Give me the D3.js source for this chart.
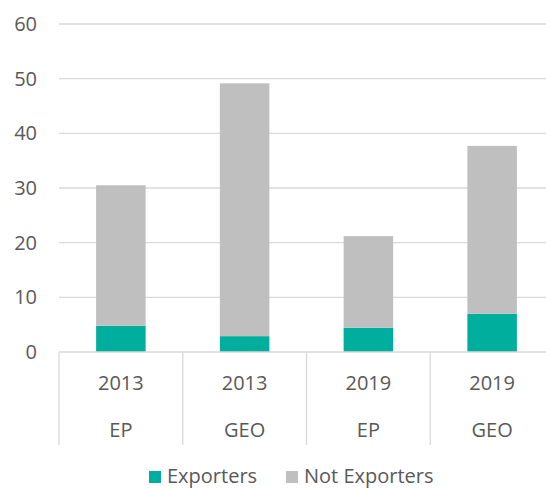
<!DOCTYPE html>
<html>
<head>
<meta charset="utf-8">
<script src="https://cdn.jsdelivr.net/npm/d3@7"></script>
<style>
  body { margin: 0; background: #fff; }
  text { font-family: "Open Sans", sans-serif; fill: #595959; }
</style>
</head>
<body>
<div id="chart"></div>
<script>
const years = ['2013', '2013', '2019', '2019'];
const groups = ['EP', 'GEO', 'EP', 'GEO'];
const exporters = [4.8, 2.9, 4.45, 7.0];
const notExporters = [25.7, 46.25, 16.75, 30.7];
const seriesNames = ['Exporters', 'Not Exporters'];
const seriesColors = ['#00ae9d', '#bfbfbf'];
const yTicks = [0, 10, 20, 30, 40, 50, 60];

const W = 546, H = 489;
const plotLeft = 59, plotRight = 554, plotTop = 24, plotBottom = 352;

const svg = d3.select('#chart').append('svg').attr('width', W).attr('height', H);

const idx = d3.range(years.length);
const x = d3.scaleBand().domain(idx).range([plotLeft, plotRight]).paddingInner(0.6).paddingOuter(0.3);
const y = d3.scaleLinear().domain([0, 60]).range([plotBottom, plotTop]);
const step = x.step();

// gridlines
svg.append('g').selectAll('line')
  .data(yTicks.filter(t => t > 0)).join('line')
  .attr('x1', plotLeft).attr('x2', W)
  .attr('y1', d => y(d)).attr('y2', d => y(d))
  .attr('stroke', '#d9d9d9').attr('stroke-width', 1.3);

// y tick labels
svg.append('g').selectAll('text')
  .data(yTicks).join('text')
  .attr('x', 37).attr('y', d => y(d) + 7)
  .attr('text-anchor', 'end').attr('font-size', '20px')
  .text(d => d);

// stacked bars
const rows = idx.map(i => ({ i, Exporters: exporters[i], 'Not Exporters': notExporters[i] }));
const stack = d3.stack().keys(seriesNames)(rows);

svg.append('g').selectAll('g')
  .data(stack).join('g')
  .attr('fill', (d, k) => seriesColors[k])
  .selectAll('rect')
  .data(d => d).join('rect')
  .attr('x', d => x(d.data.i))
  .attr('width', x.bandwidth())
  .attr('y', d => y(d[1]))
  .attr('height', d => y(d[0]) - y(d[1]));

// category axis
const axisG = svg.append('g');
axisG.append('line')
  .attr('x1', plotLeft).attr('x2', W).attr('y1', plotBottom).attr('y2', plotBottom)
  .attr('stroke', '#d9d9d9').attr('stroke-width', 1.3);
axisG.selectAll('line.sep')
  .data(d3.range(years.length + 1)).join('line')
  .attr('class', 'sep')
  .attr('x1', d => plotLeft + d * step).attr('x2', d => plotLeft + d * step)
  .attr('y1', plotBottom).attr('y2', 445)
  .attr('stroke', '#d9d9d9').attr('stroke-width', 1.3);

axisG.selectAll('text.year')
  .data(idx).join('text')
  .attr('class', 'year')
  .attr('x', d => x(d) + x.bandwidth() / 2).attr('y', 390)
  .attr('text-anchor', 'middle').attr('font-size', '20px')
  .text(d => years[d]);

axisG.selectAll('text.grp')
  .data(idx).join('text')
  .attr('class', 'grp')
  .attr('x', d => x(d) + x.bandwidth() / 2).attr('y', 437)
  .attr('text-anchor', 'middle').attr('font-size', '20px')
  .text(d => groups[d]);

// legend (kept just inside the bottom edge)
const legendX = [149, 286];
const legend = svg.append('g');
seriesNames.forEach((name, k) => {
  legend.append('rect')
    .attr('x', legendX[k]).attr('y', 471).attr('width', 12).attr('height', 12)
    .attr('fill', seriesColors[k]);
  legend.append('text')
    .attr('x', legendX[k] + 18).attr('y', 483)
    .attr('font-size', '20px')
    .text(name);
});
</script>
</body>
</html>
